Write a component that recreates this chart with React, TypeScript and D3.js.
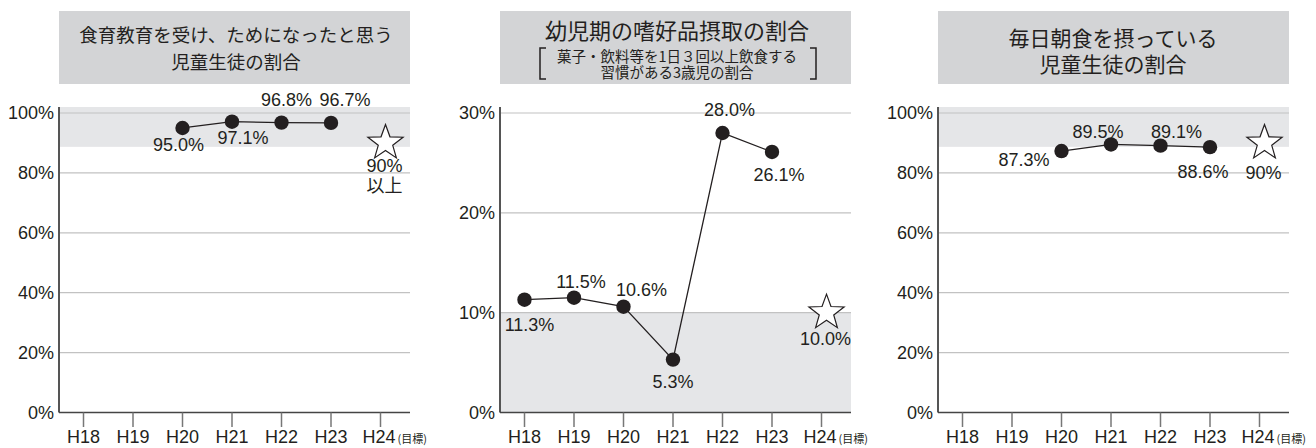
import React from "react";
import * as d3 from "d3";

const years = ["H18", "H19", "H20", "H21", "H22", "H23", "H24"];

const shokuikuYears = ["H20", "H21", "H22", "H23"];
const shokuikuValues = [95.0, 97.1, 96.8, 96.7];
const shokuikuTarget = 90;

const shikohinYears = ["H18", "H19", "H20", "H21", "H22", "H23"];
const shikohinValues = [11.3, 11.5, 10.6, 5.3, 28.0, 26.1];
const shikohinTarget = 10.0;

const choshokuYears = ["H20", "H21", "H22", "H23"];
const choshokuValues = [87.3, 89.5, 89.1, 88.6];
const choshokuTarget = 90;

const ticksPct100 = [0, 20, 40, 60, 80, 100];
const ticksPct30 = [0, 10, 20, 30];

const JP = "'Noto Sans CJK JP', 'Noto Sans', sans-serif";
const NUM = "'Liberation Sans', Arial, sans-serif";
const TEXT = "#231f20";

const starPath = (cx, cy, R, r) => {
  const pts = d3.range(10).map(i => {
    const a = -Math.PI / 2 + (i * Math.PI) / 5;
    const rad = i % 2 === 0 ? R : r;
    return [cx + rad * Math.cos(a), cy + rad * Math.sin(a)];
  });
  return "M" + pts.map(p => p.join(",")).join("L") + "Z";
};

const Panel = ({ ox, title, yMax, ticks, band, cats, values, target, labelPos, fmt, targetLines, targetDy }) => {
  const axisX = ox + 59;
  const right = ox + 410;
  const bottom = 412.5;
  const x = d3.scalePoint().domain(years).range([ox + 83.5, ox + 380.5]);
  const y = d3.scaleLinear().domain([0, yMax]).range([bottom, 113]);
  const pts = cats.map((c, i) => [x(c), y(values[i])]);
  const line = d3.line();
  const sx = x("H24") + 5;
  const sy = y(target);

  return (
    <g>
      <rect x={axisX} y={11} width={right - axisX} height={73} fill="#d3d4d6" />
      {title}
      <rect x={axisX} y={y(band[1])} width={right - axisX} height={y(band[0]) - y(band[1])} fill="#e5e6e8" />
      {ticks.filter(t => t > 0).map(t => (
        <line key={t} x1={axisX} x2={right} y1={y(t)} y2={y(t)} stroke="#c2c2c2" strokeWidth={1.2} />
      ))}
      {ticks.map(t => (
        <text key={t} x={axisX - 5} y={y(t)} textAnchor="end" dominantBaseline="central" fontFamily={NUM} fontSize={18} fill={TEXT}>
          {t}%
        </text>
      ))}
      <line x1={axisX} x2={axisX} y1={107} y2={bottom} stroke="#555" strokeWidth={2} />
      <line x1={axisX} x2={right} y1={bottom} y2={bottom} stroke="#444" strokeWidth={1.5} />
      {years.map(c => (
        <line key={c} x1={x(c)} x2={x(c)} y1={bottom} y2={427} stroke="#777" strokeWidth={1.5} />
      ))}
      {years.map(c =>
        c === "H24" ? (
          <text key={c} x={x(c) - 18} y={437} dominantBaseline="central" fontFamily={NUM} fontSize={18} fill={TEXT}>
            {c}
            <tspan fontFamily={JP} fontSize={11} dx={2} dy={1}>(目標)</tspan>
          </text>
        ) : (
          <text key={c} x={x(c)} y={437} textAnchor="middle" dominantBaseline="central" fontFamily={NUM} fontSize={18} fill={TEXT}>
            {c}
          </text>
        )
      )}
      <path d={line(pts)} fill="none" stroke="#231f20" strokeWidth={1.3} />
      {pts.map((p, i) => (
        <circle key={i} cx={p[0]} cy={p[1]} r={7.2} fill="#231f20" />
      ))}
      {pts.map((p, i) => (
        <text
          key={i}
          x={p[0] + labelPos[i][0]}
          y={p[1] + labelPos[i][1]}
          textAnchor={labelPos[i][2] || "middle"}
          dominantBaseline="central"
          fontFamily={NUM}
          fontSize={18}
          fill={TEXT}
        >
          {fmt(values[i])}%
        </text>
      ))}
      <path d={starPath(sx, sy, 18.5, 7.6)} fill="#fff" stroke="#231f20" strokeWidth={1.2} />
      <text x={sx - 1} y={sy + targetDy} textAnchor="middle" dominantBaseline="central" fontSize={18} fill={TEXT}>
        {targetLines.map((t, i) => (
          <tspan key={i} x={sx - 1} dy={i === 0 ? 0 : 18} fontFamily={i === 0 ? NUM : JP}>
            {t}
          </tspan>
        ))}
      </text>
    </g>
  );
};

const f1 = d3.format(".1f");

export default function App() {
  const title1 = (
    <text fontSize={18.5} fill={TEXT} textAnchor="middle" fontFamily={JP}>
      <tspan x={236} y={42}>食育教育を受け、ためになったと思う</tspan>
      <tspan x={236} y={69}>児童生徒の割合</tspan>
    </text>
  );
  const title2 = (
    <g fill={TEXT} textAnchor="middle" fontFamily={JP}>
      <text x={677} y={39} fontSize={22}>幼児期の嗜好品摂取の割合</text>
      <text fontSize={14.5}>
        <tspan x={677} y={62}>菓子・飲料等を1日３回以上飲食する</tspan>
        <tspan x={677} y={78}>習慣がある3歳児の割合</tspan>
      </text>
      <path d="M546,48H540V79H546" fill="none" stroke={TEXT} strokeWidth={1.5} />
      <path d="M810,48H816V79H810" fill="none" stroke={TEXT} strokeWidth={1.5} />
    </g>
  );
  const title3 = (
    <text fontSize={21} fill={TEXT} textAnchor="middle" fontFamily={JP}>
      <tspan x={1113} y={46}>毎日朝食を摂っている</tspan>
      <tspan x={1113} y={72}>児童生徒の割合</tspan>
    </text>
  );

  return (
    <svg width={1316} height={448} style={{ position: "absolute", left: 0, top: 0, fontFamily: JP }}>
      <rect width={1316} height={448} fill="#fff" />
      <Panel
        ox={0}
        title={title1}
        yMax={100}
        ticks={ticksPct100}
        band={[88.7, 102]}
        cats={shokuikuYears}
        values={shokuikuValues}
        target={shokuikuTarget}
        fmt={f1}
        labelPos={[[-4, 17], [11, 16], [5, -23], [14, -23]]}
        targetLines={[`${shokuikuTarget}%`, "以上"]}
        targetDy={23}
      />
      <Panel
        ox={441}
        title={title2}
        yMax={30}
        ticks={ticksPct30}
        band={[0, 10]}
        cats={shikohinYears}
        values={shikohinValues}
        target={shikohinTarget}
        fmt={f1}
        labelPos={[[5, 25], [7, -16], [18, -17], [0, 22], [7, -23], [7, 23]]}
        targetLines={[`${f1(shikohinTarget)}%`]}
        targetDy={26}
      />
      <Panel
        ox={879}
        title={title3}
        yMax={100}
        ticks={ticksPct100}
        band={[88.7, 102]}
        cats={choshokuYears}
        values={choshokuValues}
        target={choshokuTarget}
        fmt={f1}
        labelPos={[[-12, 9, "end"], [-13, -12], [16, -14], [-7, 25]]}
        targetLines={[`${choshokuTarget}%`]}
        targetDy={30}
      />
    </svg>
  );
}
